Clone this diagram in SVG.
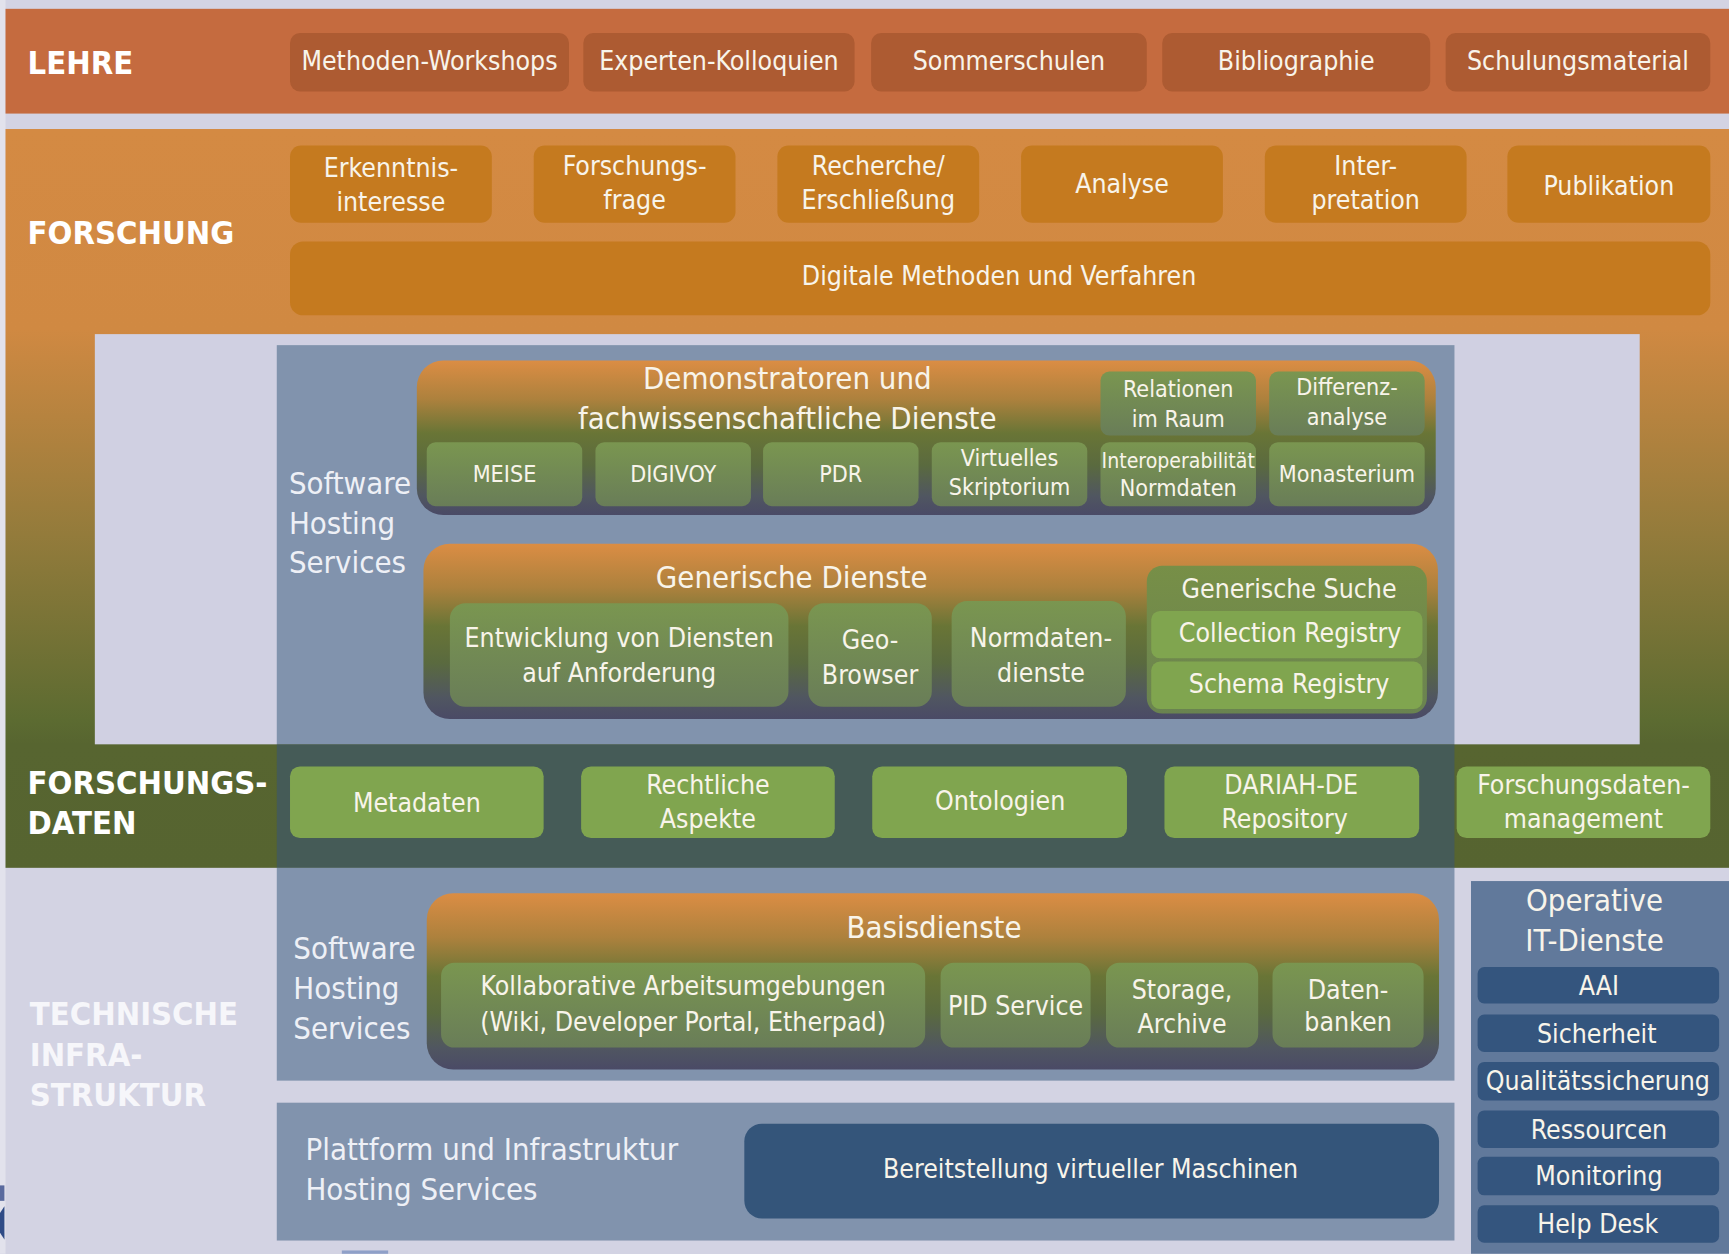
<svg xmlns="http://www.w3.org/2000/svg" width="1729" height="1254" viewBox="0 0 1729 1254">
<defs>
<linearGradient id="gF" gradientUnits="userSpaceOnUse" x1="0" y1="117" x2="0" y2="787">
<stop offset="0" stop-color="#d48a43"/>
<stop offset="0.27" stop-color="#d08942"/>
<stop offset="0.55" stop-color="#937b3b"/>
<stop offset="0.8" stop-color="#5c6b31"/>
<stop offset="0.833" stop-color="#576530"/>
<stop offset="1" stop-color="#566430"/>
</linearGradient>
<linearGradient id="gP" x1="0" y1="0" x2="0" y2="1">
<stop offset="0" stop-color="#db8d44"/>
<stop offset="0.25" stop-color="#ad813d"/>
<stop offset="0.47" stop-color="#697536"/>
<stop offset="0.68" stop-color="#5a6a3f"/>
<stop offset="0.88" stop-color="#505661"/>
<stop offset="1" stop-color="#4a4a66"/>
</linearGradient>
<linearGradient id="gI" x1="0" y1="0" x2="0" y2="1">
<stop offset="0" stop-color="#7a9650"/>
<stop offset="1" stop-color="#697d58"/>
</linearGradient>
<linearGradient id="gS" x1="0" y1="0" x2="0" y2="1">
<stop offset="0" stop-color="#778f47"/>
<stop offset="1" stop-color="#6a8350"/>
</linearGradient>
<style>
.t{font-family:"DejaVu Sans Condensed","DejaVu Sans",sans-serif;fill:#f8f4ea;text-anchor:middle;dominant-baseline:central;}
.s{text-anchor:start;fill:#eef0f6;}
.b{font-weight:bold;text-anchor:start;fill:#ffffff;font-size:29.5px;}
.f24{font-size:24px;}
.f21{font-size:21px;}
.f28{font-size:28px;}
.lehreItem{fill:#ad5b32;}
.forItem{fill:#c57a1f;}
.datItem{fill:#80a54f;}
.demo{fill:url(#gI);}
.panel{fill:url(#gP);}
.blue{fill:#8193ad;}
.op{fill:#34557e;}
</style>
</defs>
<rect x="0" y="0" width="1729" height="1254" fill="#d3d3e3"/>
<g transform="scale(1.1027)">
<rect x="0" y="0" width="5" height="1137" fill="#e2e2ec"/>
<g id="lehre">
<rect x="5" y="8" width="1563" height="95" fill="#c56b3f"/>
<text class="t b" x="25" y="57">LEHRE</text>
</g>
<g id="lehre-methoden"><rect class="lehreItem" x="263" y="30" width="253" height="53" rx="9"/><text class="t f24" x="389.5" y="55">Methoden-Workshops</text></g>
<g id="lehre-experten"><rect class="lehreItem" x="529" y="30" width="246" height="53" rx="9"/><text class="t f24" x="652" y="55">Experten-Kolloquien</text></g>
<g id="lehre-sommer"><rect class="lehreItem" x="790" y="30" width="250" height="53" rx="9"/><text class="t f24" x="915" y="55">Sommerschulen</text></g>
<g id="lehre-biblio"><rect class="lehreItem" x="1054" y="30" width="243" height="53" rx="9"/><text class="t f24" x="1175.5" y="55">Bibliographie</text></g>
<g id="lehre-schulung"><rect class="lehreItem" x="1311" y="30" width="240" height="53" rx="9"/><text class="t f24" x="1431" y="55">Schulungsmaterial</text></g>

<g id="forschung">
<rect x="5" y="117" width="1563" height="670" fill="url(#gF)"/>
<text class="t b" x="25" y="211">FORSCHUNG</text>
</g>
<g id="f-erkenntnis"><rect class="forItem" x="263" y="132" width="183" height="70" rx="10"/><text class="t f24" x="354.5" y="152">Erkenntnis-</text><text class="t f24" x="354.5" y="183">interesse</text></g>
<g id="f-frage"><rect class="forItem" x="484" y="132" width="183" height="70" rx="10"/><text class="t f24" x="575.5" y="150">Forschungs-</text><text class="t f24" x="575.5" y="181">frage</text></g>
<g id="f-recherche"><rect class="forItem" x="705" y="132" width="183" height="70" rx="10"/><text class="t f24" x="796.5" y="150">Recherche/</text><text class="t f24" x="796.5" y="181">Erschließung</text></g>
<g id="f-analyse"><rect class="forItem" x="926" y="132" width="183" height="70" rx="10"/><text class="t f24" x="1017.5" y="166">Analyse</text></g>
<g id="f-inter"><rect class="forItem" x="1147" y="132" width="183" height="70" rx="10"/><text class="t f24" x="1238.5" y="150">Inter-</text><text class="t f24" x="1238.5" y="181">pretation</text></g>
<g id="f-publikation"><rect class="forItem" x="1367" y="132" width="184" height="70" rx="10"/><text class="t f24" x="1459" y="168">Publikation</text></g>
<g id="f-digitale"><rect class="forItem" x="263" y="219" width="1288" height="67" rx="12"/><text class="t f24" x="906" y="250">Digitale Methoden und Verfahren</text></g>

<rect x="86" y="303" width="1401" height="372" fill="#d0d0e2"/>
<g id="software-hosting-1">
<rect class="blue" x="251" y="313" width="1068" height="362"/>
<text class="t s f28" x="262" y="438">Software</text>
<text class="t s f28" x="262" y="474">Hosting</text>
<text class="t s f28" x="262" y="510">Services</text>
</g>

<g id="demonstratoren">
<rect class="panel" x="378" y="327" width="924" height="140" rx="24"/>
<text class="t f28" x="714" y="343">Demonstratoren und</text>
<text class="t f28" x="714" y="379">fachwissenschaftliche Dienste</text>
</g>
<g id="d-relationen"><rect class="demo" x="998" y="337" width="141" height="58" rx="8"/><text class="t f21" x="1068.5" y="353">Relationen</text><text class="t f21" x="1068.5" y="380">im Raum</text></g>
<g id="d-differenz"><rect class="demo" x="1151" y="337" width="141" height="58" rx="8"/><text class="t f21" x="1221.5" y="351">Differenz-</text><text class="t f21" x="1221.5" y="378">analyse</text></g>
<g id="d-meise"><rect class="demo" x="387" y="401" width="141" height="58" rx="8"/><text class="t f21" x="457.5" y="430">MEISE</text></g>
<g id="d-digivoy"><rect class="demo" x="540" y="401" width="141" height="58" rx="8"/><text class="t f21" x="610.5" y="430">DIGIVOY</text></g>
<g id="d-pdr"><rect class="demo" x="692" y="401" width="141" height="58" rx="8"/><text class="t f21" x="762.5" y="430">PDR</text></g>
<g id="d-skriptorium"><rect class="demo" x="845" y="401" width="141" height="58" rx="8"/><text class="t f21" x="915.5" y="415">Virtuelles</text><text class="t f21" x="915.5" y="442">Skriptorium</text></g>
<g id="d-interop"><rect class="demo" x="998" y="401" width="141" height="58" rx="8"/><text class="t" style="font-size:20px" x="1068.5" y="418" textLength="139" lengthAdjust="spacingAndGlyphs">Interoperabilität</text><text class="t f21" x="1068.5" y="443">Normdaten</text></g>
<g id="d-monasterium"><rect class="demo" x="1151" y="401" width="141" height="58" rx="8"/><text class="t f21" x="1221.5" y="430">Monasterium</text></g>

<g id="generische">
<rect class="panel" x="384" y="493" width="920" height="159" rx="24"/>
<text class="t f28" x="718" y="523">Generische Dienste</text>
</g>
<g id="g-entwicklung"><rect class="demo" x="408" y="547" width="307" height="94" rx="14"/><text class="t f24" x="561.5" y="578">Entwicklung von Diensten</text><text class="t f24" x="561.5" y="610">auf Anforderung</text></g>
<g id="g-geo"><rect class="demo" x="733" y="547" width="112" height="94" rx="14"/><text class="t f24" x="789" y="580">Geo-</text><text class="t f24" x="789" y="612">Browser</text></g>
<g id="g-normdaten"><rect class="demo" x="863" y="545" width="158" height="96" rx="14"/><text class="t f24" x="944" y="578">Normdaten-</text><text class="t f24" x="944" y="610">dienste</text></g>
<g id="g-suche"><rect x="1040" y="513" width="254" height="134" rx="14" fill="url(#gS)"/><text class="t f24" x="1169" y="534">Generische Suche</text></g>
<g id="g-collection"><rect class="datItem" x="1044" y="554" width="246" height="43" rx="8"/><text class="t f24" x="1170" y="574">Collection Registry</text></g>
<g id="g-schema"><rect class="datItem" x="1044" y="600" width="246" height="43" rx="8"/><text class="t f24" x="1169" y="620">Schema Registry</text></g>

<g id="forschungsdaten">
<rect x="251" y="675" width="1068" height="112" fill="#455b57"/>
<text class="t b" x="25" y="710">FORSCHUNGS-</text>
<text class="t b" x="25" y="746">DATEN</text>
</g>
<g id="fd-metadaten"><rect class="datItem" x="263" y="695" width="230" height="65" rx="9"/><text class="t f24" x="378" y="728">Metadaten</text></g>
<g id="fd-recht"><rect class="datItem" x="527" y="695" width="230" height="65" rx="9"/><text class="t f24" x="642" y="711">Rechtliche</text><text class="t f24" x="642" y="742">Aspekte</text></g>
<g id="fd-ontologien"><rect class="datItem" x="791" y="695" width="231" height="65" rx="9"/><text class="t f24" x="907" y="726">Ontologien</text></g>
<g id="fd-dariah"><rect class="datItem" x="1056" y="695" width="231" height="65" rx="9"/><text class="t f24" x="1171" y="711">DARIAH-DE</text><text class="t f24" x="1165" y="742">Repository</text></g>
<g id="fd-fdm"><rect class="datItem" x="1321" y="695" width="230" height="65" rx="9"/><text class="t f24" x="1436" y="711">Forschungsdaten-</text><text class="t f24" x="1436" y="742">management</text></g>

<g id="technische-infrastruktur">
<text class="t b" x="27" y="920" style="fill:#f6f6fa">TECHNISCHE</text>
<text class="t b" x="27" y="957" style="fill:#f6f6fa">INFRA-</text>
<text class="t b" x="27" y="993" style="fill:#f6f6fa">STRUKTUR</text>
</g>
<g id="software-hosting-2">
<rect class="blue" x="251" y="787" width="1068" height="193"/>
<text class="t s f28" x="266" y="860">Software</text>
<text class="t s f28" x="266" y="896">Hosting</text>
<text class="t s f28" x="266" y="932">Services</text>
</g>
<g id="basisdienste">
<rect class="panel" x="387" y="810" width="918" height="160" rx="24"/>
<text class="t f28" x="847" y="841">Basisdienste</text>
</g>
<g id="b-kollab"><rect class="demo" x="400" y="873" width="439" height="77" rx="12"/><text class="t f24" x="619.5" y="894">Kollaborative Arbeitsumgebungen</text><text class="t f24" x="619.5" y="926">(Wiki, Developer Portal, Etherpad)</text></g>
<g id="b-pid"><rect class="demo" x="853" y="873" width="136" height="77" rx="12"/><text class="t f24" x="921" y="912">PID Service</text></g>
<g id="b-storage"><rect class="demo" x="1003" y="873" width="138" height="77" rx="12"/><text class="t f24" x="1072" y="897">Storage,</text><text class="t f24" x="1072" y="928">Archive</text></g>
<g id="b-datenbanken"><rect class="demo" x="1154" y="873" width="137" height="77" rx="12"/><text class="t f24" x="1222.5" y="897">Daten-</text><text class="t f24" x="1222.5" y="926">banken</text></g>

<g id="plattform">
<rect class="blue" x="251" y="1000" width="1068" height="125"/>
<text class="t s f28" x="277" y="1042">Plattform und Infrastruktur</text>
<text class="t s f28" x="277" y="1078">Hosting Services</text>
</g>
<g id="p-vm"><rect x="675" y="1019" width="630" height="86" rx="16" fill="#34557a"/><text class="t f24" x="989" y="1060">Bereitstellung virtueller Maschinen</text></g>

<g id="operative">
<rect x="1334" y="799" width="234" height="338" fill="#61799b"/>
<text class="t f28" x="1446" y="816">Operative</text>
<text class="t f28" x="1446" y="852">IT-Dienste</text>
</g>
<g id="o-aai"><rect class="op" x="1340" y="877" width="219" height="33" rx="6"/><text class="t f24" x="1450" y="893.5">AAI</text></g>
<g id="o-sicherheit"><rect class="op" x="1340" y="920" width="219" height="34" rx="6"/><text class="t f24" x="1448" y="937">Sicherheit</text></g>
<g id="o-qualitaet"><rect class="op" x="1340" y="963" width="219" height="35" rx="6"/><text class="t f24" x="1449" y="980">Qualitätssicherung</text></g>
<g id="o-ressourcen"><rect class="op" x="1340" y="1007" width="219" height="34" rx="6"/><text class="t f24" x="1450" y="1024">Ressourcen</text></g>
<g id="o-monitoring"><rect class="op" x="1340" y="1049" width="219" height="35" rx="6"/><text class="t f24" x="1450" y="1066">Monitoring</text></g>
<g id="o-helpdesk"><rect class="op" x="1340" y="1093" width="219" height="34" rx="6"/><text class="t f24" x="1449" y="1110">Help Desk</text></g>
<g id="connectors"></g>
<g id="fragments">
<rect x="0" y="1075" width="4" height="14" fill="#5a6a9e"/>
<path d="M0 1100 L4 1094 L4 1124 L0 1118 Z" fill="#2f4b86"/>
<rect x="310" y="1134" width="42" height="3" fill="#8fa0c8"/>
</g>
</g>
</svg>
